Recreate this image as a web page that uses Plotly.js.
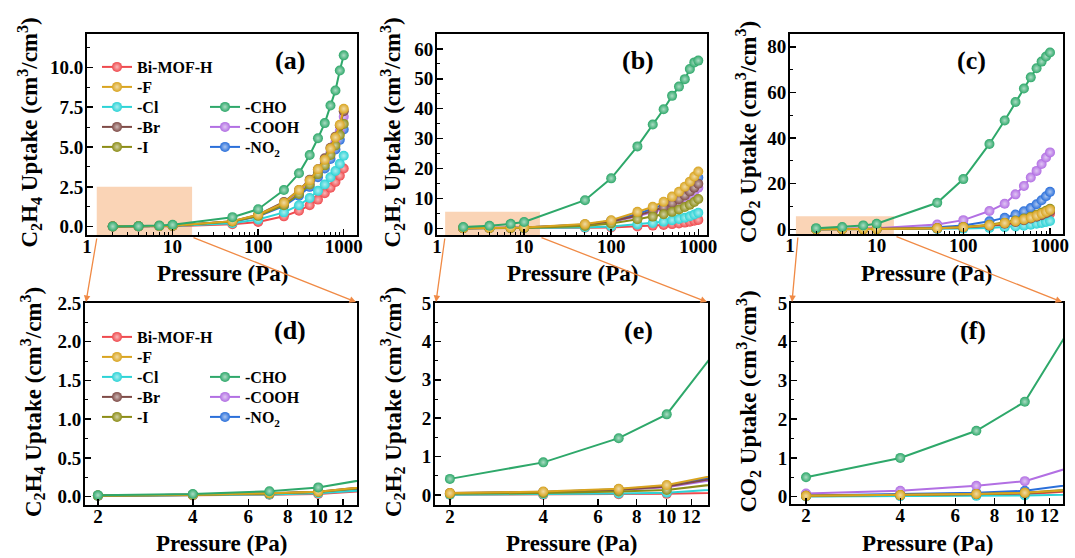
<!DOCTYPE html>
<html><head><meta charset="utf-8">
<script src="https://cdn.plot.ly/plotly-3.0.1.min.js"></script>
<style>html,body{margin:0;padding:0;background:#fff;} #chart{width:1075px;height:558px;}</style>
</head><body><div id="chart"></div>
<script>
// ---------------- DATA ----------------
const pressure = [2, 4, 7, 10, 50, 100, 200, 300, 400, 500, 600, 700, 800, 900, 1000];
const seriesNames = ['Bi-MOF-H', '-F', '-Cl', '-Br', '-I', '-CHO', '-COOH', '-NO<sub>2</sub>'];

// C2H4 uptake (cm3/cm3)
const c2h4_H    = [0.01, 0.015, 0.025, 0.035, 0.15, 0.3, 0.65, 1.0, 1.35, 1.7, 2.1, 2.45, 2.8, 3.2, 3.65];
const c2h4_F    = [0.015, 0.025, 0.045, 0.065, 0.35, 0.75, 1.5, 2.3, 2.9, 3.6, 4.2, 4.9, 5.6, 6.4, 7.4];
const c2h4_Cl   = [0.01, 0.02, 0.03, 0.045, 0.22, 0.45, 0.9, 1.35, 1.8, 2.25, 2.65, 3.1, 3.5, 3.95, 4.45];
const c2h4_Br   = [0.015, 0.025, 0.045, 0.065, 0.35, 0.75, 1.55, 2.3, 2.95, 3.6, 4.3, 4.95, 5.65, 6.35, 7.25];
const c2h4_I    = [0.012, 0.022, 0.04, 0.06, 0.32, 0.68, 1.35, 2.05, 2.65, 3.3, 3.85, 4.5, 5.1, 5.75, 6.45];
const c2h4_CHO  = [0.02, 0.035, 0.07, 0.12, 0.6, 1.1, 2.3, 3.35, 4.5, 5.55, 6.5, 7.6, 8.55, 9.8, 10.75];
const c2h4_COOH = [0.013, 0.024, 0.042, 0.062, 0.33, 0.7, 1.4, 2.15, 2.75, 3.4, 4.0, 4.65, 5.3, 6.0, 6.9];
const c2h4_NO2  = [0.012, 0.022, 0.04, 0.058, 0.3, 0.65, 1.3, 1.95, 2.5, 3.1, 3.65, 4.25, 4.85, 5.45, 6.1];

// C2H2 uptake (cm3/cm3)
const c2h2_H    = [0.005, 0.01, 0.02, 0.03, 0.15, 0.3, 0.6, 0.9, 1.1, 1.4, 1.6, 1.9, 2.2, 2.5, 2.8];
const c2h2_F    = [0.05, 0.09, 0.16, 0.26, 1.4, 2.7, 5.5, 7.2, 8.9, 10.6, 12.2, 13.9, 15.6, 17.3, 19.0];
const c2h2_Cl   = [0.01, 0.02, 0.04, 0.06, 0.3, 0.6, 1.3, 1.8, 2.2, 2.7, 3.1, 3.5, 4.0, 4.6, 5.2];
const c2h2_Br   = [0.05, 0.08, 0.14, 0.22, 1.2, 2.3, 4.3, 5.8, 7.0, 8.4, 9.7, 11.0, 12.3, 13.6, 14.9];
const c2h2_I    = [0.03, 0.05, 0.09, 0.13, 0.8, 1.6, 3.0, 3.9, 4.7, 5.5, 6.3, 7.1, 7.9, 8.8, 9.8];
const c2h2_CHO  = [0.42, 0.85, 1.48, 2.1, 9.4, 16.7, 27.4, 34.7, 39.8, 44.3, 47.4, 49.9, 53.3, 55.5, 56.1];
const c2h2_COOH = [0.04, 0.07, 0.13, 0.2, 1.1, 2.1, 4.0, 5.3, 6.4, 7.6, 8.8, 10.0, 11.2, 12.4, 13.6];
const c2h2_NO2  = [0.04, 0.08, 0.15, 0.24, 1.3, 2.5, 4.8, 6.5, 7.9, 9.5, 11.0, 12.5, 14.0, 15.5, 17.0];

// CO2 uptake (cm3/cm3)
const co2_H    = [0.01, 0.02, 0.04, 0.06, 0.3, 0.6, 1.3, 2.0, 2.7, 3.4, 4.0, 4.7, 5.4, 6.1, 6.8];
const co2_F    = [0.02, 0.04, 0.07, 0.1, 0.45, 0.9, 1.8, 2.7, 3.5, 4.3, 5.1, 5.9, 6.8, 7.6, 8.5];
const co2_Cl   = [0.005, 0.01, 0.02, 0.03, 0.15, 0.3, 0.6, 0.9, 1.2, 1.6, 2.0, 2.4, 2.8, 3.2, 3.6];
const co2_Br   = [0.02, 0.035, 0.06, 0.09, 0.4, 0.8, 1.6, 2.4, 3.2, 4.0, 4.7, 5.5, 6.2, 7.0, 7.8];
const co2_I    = [0.02, 0.04, 0.07, 0.1, 0.5, 1.0, 2.0, 2.9, 3.8, 4.7, 5.5, 6.4, 7.2, 8.1, 9.0];
const co2_CHO  = [0.5, 1.0, 1.7, 2.45, 11.6, 22.0, 37.4, 47.7, 55.8, 61.7, 66.6, 70.6, 73.5, 75.7, 77.5];
const co2_COOH = [0.08, 0.15, 0.28, 0.4, 2.1, 4.0, 8.0, 11.2, 15.3, 19.0, 22.7, 25.6, 28.6, 31.5, 33.7];
const co2_NO2  = [0.03, 0.06, 0.1, 0.15, 0.9, 1.7, 3.5, 5.0, 6.5, 7.9, 9.3, 11.0, 12.7, 14.5, 16.4];

const topTickVals = [1, 10, 100, 1000];
const topTickText = ['1', '10', '100', '1000'];
const lowTickVals = [2, 4, 6, 8, 10, 12];
const lowTickText = ['2', '4', '6', '8', '10', '12'];
const panelLabels = ['(a)', '(b)', '(c)', '(d)', '(e)', '(f)'];
const yTitles = [
  'C<sub>2</sub>H<sub>4</sub> Uptake (cm<sup>3</sup>/cm<sup>3</sup>)',
  'C<sub>2</sub>H<sub>2</sub> Uptake (cm<sup>3</sup>/cm<sup>3</sup>)',
  'CO<sub>2</sub> Uptake (cm<sup>3</sup>/cm<sup>3</sup>)'
];
const xTitle = 'Pressure (Pa)';

// ---------------- STYLE / LAYOUT ----------------
const seriesColors = ['#EF4A4E', '#D9A41F', '#2CD3D6', '#7F4B47', '#8C8C16', '#2EA86A', '#B26FE3', '#2A6FDA'];
const gasData = [
  [c2h4_H, c2h4_F, c2h4_Cl, c2h4_Br, c2h4_I, c2h4_CHO, c2h4_COOH, c2h4_NO2],
  [c2h2_H, c2h2_F, c2h2_Cl, c2h2_Br, c2h2_I, c2h2_CHO, c2h2_COOH, c2h2_NO2],
  [co2_H, co2_F, co2_Cl, co2_Br, co2_I, co2_CHO, co2_COOH, co2_NO2]
];
const drawOrder = [7, 6, 0, 2, 3, 4, 1, 5];

const W = 1075, H = 558;
const fx = p => p / W;
const fy = p => 1 - p / H;
const FONT = 'Liberation Serif, Times New Roman, serif';

function lighten(hex, f) {
  const n = parseInt(hex.slice(1), 16);
  const r = (n >> 16) & 255, g = (n >> 8) & 255, b = n & 255;
  const m = c => Math.round(c + (255 - c) * f);
  return 'rgb(' + m(r) + ',' + m(g) + ',' + m(b) + ')';
}

const panels = [
  {gas: 0, px: [87, 357], py: [34, 235], xr: [0, 3.155], yr: [-0.52, 12.09], dt: 2.5, fmt: '.1f', low: false},
  {gas: 1, px: [437, 707], py: [34, 235], xr: [0, 3.10], yr: [-2.25, 65.0], dt: 10, fmt: 'd', low: false},
  {gas: 2, px: [790, 1063], py: [34, 234], xr: [0, 3.15], yr: [-2.07, 85.6], dt: 20, fmt: 'd', low: false},
  {gas: 0, px: [85, 357], py: [303, 505], xr: [0.26, 1.123], yr: [-0.107, 2.5], dt: 0.5, fmt: '.1f', low: true},
  {gas: 1, px: [435, 708], py: [303, 505], xr: [0.253, 1.133], yr: [-0.26, 5], dt: 1, fmt: 'd', low: true},
  {gas: 2, px: [791, 1063], py: [303, 504], xr: [0.253, 1.122], yr: [-0.19, 5], dt: 1, fmt: 'd', low: true}
];

const tickFont = {family: FONT, size: 19, color: '#000', weight: 'bold'};
const topMinor = [];
[1, 10, 100].forEach(d => { for (let k = 2; k <= 9; k++) topMinor.push(k * d); });

const layout = {
  width: W, height: H,
  margin: {l: 0, r: 0, t: 0, b: 0},
  paper_bgcolor: '#fff', plot_bgcolor: '#fff',
  showlegend: true,
  annotations: [], shapes: []
};

// legend entry positions: [left px, row-center px] for each series, for panel (a) and (d)
const legCols = [97, 97, 97, 97, 97, 205, 205, 205];
const legRows = [0, 1, 2, 3, 4, 2, 3, 4];
const legTop = {0: 67, 3: 337};
const legFont = {family: FONT, size: 16, color: '#000', weight: 'bold'};
let legCount = 0;
function newLegend(leftPx, centerPx) {
  legCount++;
  const id = legCount === 1 ? 'legend' : 'legend' + legCount;
  layout[id] = {x: fx(leftPx), y: fy(centerPx - 17), xanchor: 'left', yanchor: 'top',
    bgcolor: 'rgba(0,0,0,0)', borderwidth: 0, font: legFont, itemwidth: 30};
  return id;
}

const traces = [];
panels.forEach((p, i) => {
  const sfx = i === 0 ? '' : String(i + 1);
  const xa = {
    domain: [fx(p.px[0]), fx(p.px[1])], anchor: 'y' + sfx,
    type: 'log', range: p.xr,
    tickmode: 'array',
    tickvals: p.low ? lowTickVals : topTickVals,
    ticktext: p.low ? lowTickText : topTickText,
    ticks: 'inside', ticklen: 6, tickwidth: 1.5, tickcolor: '#000',
    ticklabelstandoff: -7,
    showline: true, linewidth: 2, linecolor: '#000', mirror: true,
    showgrid: false, zeroline: false, tickfont: tickFont, fixedrange: true
  };
  if (!p.low) xa.minor = {tickmode: 'array', tickvals: topMinor, ticks: 'inside', ticklen: 3, tickwidth: 1, tickcolor: '#000'};
  const ya = {
    domain: [fy(p.py[1]), fy(p.py[0])], anchor: 'x' + sfx,
    range: p.yr, dtick: p.dt, tick0: 0, tickformat: p.fmt,
    ticks: 'inside', ticklen: 6, tickwidth: 1.5, tickcolor: '#000',
    ticklabelstandoff: -2,
    minor: {dtick: p.dt / 2, tick0: 0, ticks: 'inside', ticklen: 3, tickwidth: 1, tickcolor: '#000'},
    showline: true, linewidth: 2, linecolor: '#000', mirror: true,
    showgrid: false, zeroline: false, tickfont: tickFont, fixedrange: true
  };
  layout['xaxis' + sfx] = xa;
  layout['yaxis' + sfx] = ya;

  drawOrder.forEach(s => {
    const legendOn = (i === 0 || i === 3);
    const tr = {
      type: 'scatter', mode: 'lines+markers',
      x: pressure, y: gasData[p.gas][s],
      xaxis: 'x' + sfx, yaxis: 'y' + sfx,
      name: seriesNames[s],
      showlegend: legendOn,
      line: {color: seriesColors[s], width: 2},
      marker: {size: 10, color: seriesColors[s],
               gradient: {type: 'radial', color: lighten(seriesColors[s], 0.6)},
               line: {width: 0}},
      hoverinfo: 'x+y+name'
    };
    if (legendOn) tr.legend = newLegend(legCols[s], legTop[i] + 20 * legRows[s]);
    traces.push(tr);
  });

  // panel label
  const labX = [290, 638, 971, 290, 638, 973][i];
  const labY = [60, 60, 60, 330, 330, 330][i];
  layout.annotations.push({xref: 'paper', yref: 'paper', x: fx(labX), y: fy(labY),
    text: panelLabels[i], showarrow: false, xanchor: 'center', yanchor: 'middle',
    font: {family: FONT, size: 26, color: '#000', weight: 'bold'}});
  // x title
  layout.annotations.push({xref: 'paper', yref: 'paper', x: fx((p.px[0] + p.px[1]) / 2), y: fy(p.low ? 543 : 273),
    text: xTitle, showarrow: false, xanchor: 'center', yanchor: 'middle',
    font: {family: FONT, size: 23, color: '#000', weight: 'bold'}});
  // y title
  const ytx = [29, 392, 747, 32, 392, 748][i];
  layout.annotations.push({xref: 'paper', yref: 'paper', x: fx(ytx), y: fy((p.py[0] + p.py[1]) / 2 - 2),
    text: yTitles[p.gas], showarrow: false, textangle: -90, xanchor: 'center', yanchor: 'middle',
    font: {family: FONT, size: 23, color: '#000', weight: 'bold'}});
});

// zoom rectangles on top panels
const rects = [
  {ax: 'x', ay: 'y', x0: 1.3, x1: 16.9, y1: 2.5},
  {ax: 'x2', ay: 'y2', x0: 1.24, x1: 15.2, y1: 5.5},
  {ax: 'x3', ay: 'y3', x0: 1.17, x1: 15.8, y1: 5.7}
];
rects.forEach((r, k) => {
  layout.shapes.push({type: 'rect', xref: r.ax, yref: r.ay, x0: r.x0, x1: r.x1,
    y0: panels[k].yr[0], y1: r.y1, fillcolor: 'rgba(245,170,110,0.5)', line: {width: 0}, layer: 'below'});
});

// zoom arrows as annotation arrows (tail at rect bottom corners, head at lower panel top corners)
const arrows = [
  [97, 237, 86, 302], [192, 237, 356, 302],
  [445, 237, 436, 302], [540, 237, 707, 302],
  [798, 236, 792, 302], [895, 236, 1062, 302]
];
arrows.forEach(a => {
  layout.annotations.push({xref: 'paper', yref: 'paper', x: fx(a[2]), y: fy(a[3]),
    ax: a[0] - a[2], ay: a[1] - a[3], axref: 'pixel', ayref: 'pixel',
    text: '', showarrow: true, arrowhead: 2, arrowsize: 1, arrowwidth: 1.3, arrowcolor: '#F08A45'});
});

Plotly.newPlot('chart', traces, layout, {displayModeBar: false, staticPlot: true});
</script>
</body></html>
